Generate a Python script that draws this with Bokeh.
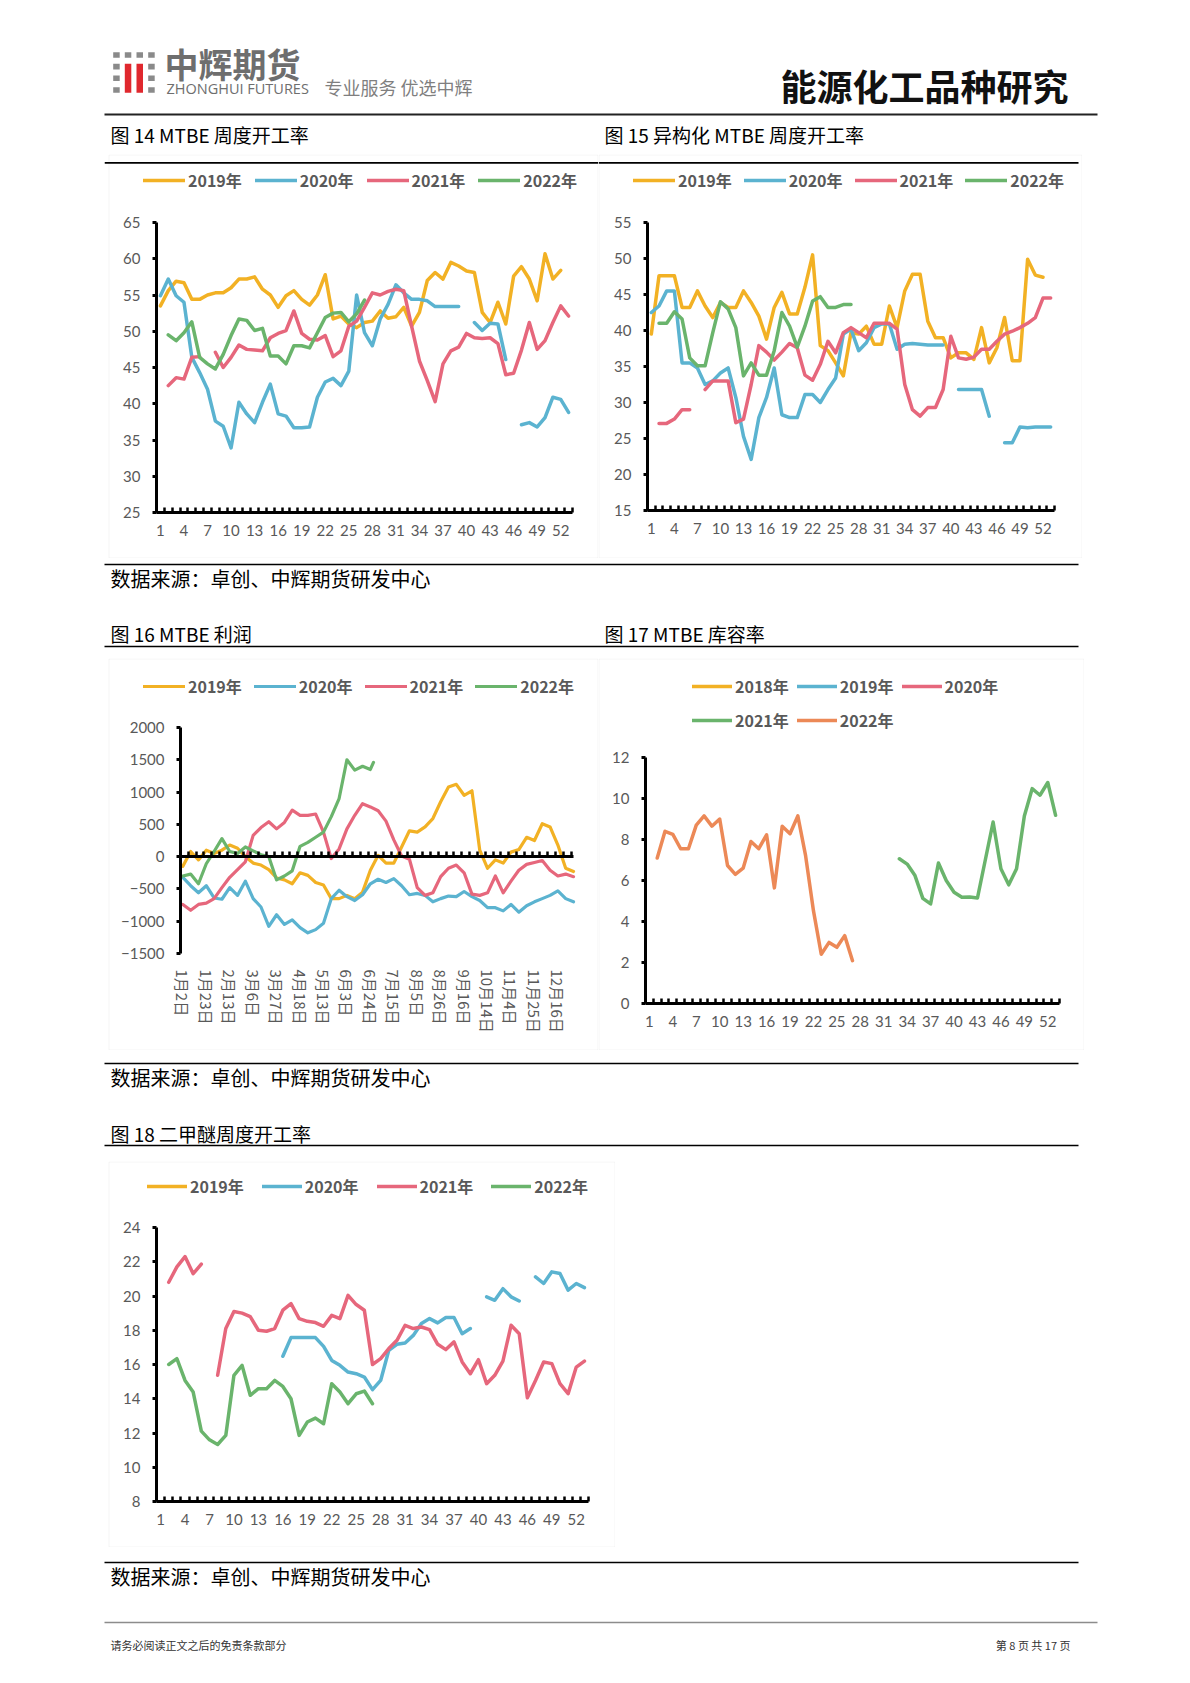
import numpy as np
from bokeh.plotting import figure
from bokeh.models import (Range1d, FixedTicker, Legend, LegendItem, BoxAnnotation,
                          Label, Spacer, LinearAxis)
from bokeh.layouts import column, row
from bokeh.core.properties import value
from bokeh.embed import file_html
from bokeh.resources import INLINE

# ---------------- data ----------------
WEEKS = list(range(1, 54))
WEEK_TICKS = list(range(1, 54, 3))

# Fig 14 MTBE weekly operating rate (%)
MTBE_RATE_2019 = [53.5, 55.6, 56.9, 56.7, 54.4, 54.4, 55.0, 55.3, 55.3, 56.0,
                  57.2, 57.2, 57.5, 55.8, 55.0, 53.3, 54.9, 55.6, 54.4, 53.6,
                  55.0, 57.8, 51.7, 52.1, 51.0, 50.5, 51.2, 51.4, 52.8, 51.8,
                  52.0, 53.3, 50.7, 52.6, 57.0, 58.1, 57.2, 59.5, 59.0, 58.3,
                  58.1, 52.6, 51.2, 54.0, 51.0, 57.6, 58.9, 57.2, 54.2, 60.7,
                  57.2, 58.4, None]
MTBE_RATE_2020 = [54.9, 57.2, 54.9, 54.0, 46.4, 44.3, 42.0, 37.6, 36.9, 33.9,
                  40.2, 38.6, 37.4, 40.2, 42.7, 38.6, 38.3, 36.7, 36.7, 36.8,
                  40.9, 43.0, 43.5, 42.5, 44.5, 55.0, 49.8, 48.0, 51.7, 53.7,
                  56.4, 55.3, 54.4, 54.4, 54.2, 53.4, 53.4, 53.4, 53.4, None,
                  51.2, 50.1, 51.1, 51.0, 46.1, None, 37.1, 37.4, 36.8, 38.1,
                  40.9, 40.6, 38.8]
MTBE_RATE_2021 = [None, 42.5, 43.6, 43.4, 46.4, 46.5, None, 47.1, 45.0, 46.4,
                  48.1, 47.5, 47.4, 47.3, 49.1, 49.7, 50.1, 52.8, 49.7, 48.9,
                  48.8, 49.4, 46.5, 47.3, 50.7, 51.4, 53.3, 55.3, 55.0, 55.5,
                  55.8, 55.6, 50.7, 45.9, 43.2, 40.3, 45.5, 47.3, 47.8, 49.7,
                  49.1, 49.0, 49.1, 48.3, 44.0, 44.2, 47.4, 51.2, 47.5, 48.7,
                  51.2, 53.5, 52.1]
MTBE_RATE_2022 = [None, 49.5, 48.7, 49.8, 51.3, 46.4, 45.5, 44.8, 46.8, 49.4,
                  51.7, 51.5, 50.1, 50.4, 46.6, 46.6, 45.5, 48.0, 48.0, 47.7,
                  49.8, 51.9, 52.5, 52.6, 51.3, 52.4, 54.3]

# Fig 15 iso-MTBE weekly operating rate (%)
ISO_RATE_2019 = [39.5, 47.6, 47.6, 47.6, 43.2, 43.2, 45.5, 43.4, 41.8, 43.9,
                 43.2, 43.2, 45.5, 43.9, 42.0, 38.8, 43.2, 45.3, 42.3, 42.3,
                 46.0, 50.5, 37.9, 37.2, 35.5, 33.7, 39.7, 39.5, 40.6, 38.1,
                 38.1, 43.4, 40.4, 45.5, 47.8, 47.8, 41.3, 39.0, 39.0, 36.2,
                 36.9, 36.9, 36.0, 40.4, 35.5, 37.6, 41.8, 35.8, 35.8, 49.9,
                 47.7, 47.4, None]
ISO_RATE_2020 = [42.5, 43.4, 45.5, 45.5, 35.5, 35.5, 34.8, 32.5, 33.0, 34.1,
                 34.8, 30.7, 25.3, 22.1, 27.9, 30.7, 34.8, 28.3, 27.9, 27.9,
                 31.1, 31.1, 30.0, 31.8, 33.4, 39.5, 40.2, 37.2, 38.3, 40.4,
                 40.9, 40.9, 37.4, 38.1, 38.2, 38.1, 38.0, 38.0, 38.0, None,
                 31.8, 31.8, 31.8, 31.8, 28.1, None, 24.4, 24.4, 26.6, 26.5,
                 26.6, 26.6, 26.6]
ISO_RATE_2021 = [None, 27.1, 27.1, 27.7, 29.0, 29.0, None, 31.8, 33.0, 33.0,
                 33.0, 27.2, 27.7, 32.5, 37.9, 37.0, 35.9, 37.0, 38.2, 37.6,
                 33.8, 33.1, 35.3, 38.5, 36.9, 39.7, 40.4, 39.7, 39.0, 41.0,
                 41.0, 41.0, 40.2, 32.5, 29.0, 28.1, 29.3, 29.3, 31.8, 39.2,
                 36.2, 36.0, 36.3, 37.4, 37.4, 38.5, 39.5, 39.9, 40.4, 41.0,
                 41.8, 44.5, 44.5]
ISO_RATE_2022 = [None, 41.0, 41.0, 42.6, 41.6, 36.2, 35.1, 35.1, 39.7, 44.0,
                 43.0, 40.4, 33.7, 35.5, 33.8, 33.8, 37.2, 42.5, 40.6, 37.7,
                 40.6, 44.1, 44.7, 43.2, 43.2, 43.6, 43.6]

# Fig 16 MTBE profit (daily axis, read every 5 days)
PROFIT_DAYS = list(range(0, 251, 5))
PROFIT_2019 = [-150, 80, -50, 100, 50, 100, 180, 130, 0, -100,
               -130, -200, -330, -360, -420, -250, -290, -400, -440, -650,
               -650, -600, -650, -550, -210, 20, -100, -100, 150, 400,
               380, 460, 590, 850, 1080, 1120, 950, 1020, 100, -180,
               -50, -100, 70, 110, 300, 250, 510, 460, 180, -180, -230]
PROFIT_2020 = [-320, -450, -560, -450, -640, -660, -480, -600, -380, -650,
               -780, -1080, -900, -1050, -980, -1100, -1180, -1130, -1030, -650,
               -520, -620, -680, -590, -420, -350, -400, -340, -450, -590,
               -570, -600, -700, -650, -610, -620, -540, -620, -680, -790,
               -790, -840, -740, -860, -760, -700, -650, -600, -530, -650, -700]
PROFIT_2021 = [-740, -830, -740, -720, -650, -480, -320, -200, -80, 330,
               450, 540, 430, 530, 720, 640, 640, 660, 380, -30,
               120, 430, 640, 820, 770, 710, 550, 260, 10, -40,
               -480, -600, -560, -310, -180, -130, -250, -580, -600, -560,
               -300, -560, -380, -210, -120, -90, -60, -210, -300, -270, -310]
PROFIT_2022_DAYS = list(range(0, 121, 5)) + [122]
PROFIT_2022 = [-300, -270, -420, -110, 80, 280, 80, 50, 150, 90,
               30, 0, -360, -300, -220, 160, 220, 300, 380, 620,
               900, 1500, 1340, 1400, 1350, 1460]
DATE_TICK_POS = list(range(0, 241, 15))
DATE_TICK_LABELS = ["1月2日", "1月23日", "2月13日", "3月6日", "3月27日", "4月18日",
                    "5月13日", "6月3日", "6月24日", "7月15日", "8月5日", "8月26日",
                    "9月16日", "10月14日", "11月4日", "11月25日", "12月16日"]

# Fig 17 MTBE storage ratio (2018-2020 shown in legend only, no points drawn)
INV_2018 = [None] * 53
INV_2019 = [None] * 53
INV_2020 = [None] * 53
INV_2021 = [None] * 32 + [7.06, 6.8, 6.24, 5.13, 4.86, 6.85, 6.0, 5.43, 5.18, 5.2,
                          5.15, 7.0, 8.85, 6.57, 5.79, 6.57, 9.15, 10.48, 10.16, 10.78, 9.18]
INV_2022 = [None, 7.1, 8.4, 8.25, 7.55, 7.55, 8.7, 9.15, 8.65, 9.0,
            6.73, 6.3, 6.6, 7.9, 7.55, 8.23, 5.64, 8.65, 8.28, 9.15,
            7.2, 4.53, 2.4, 2.98, 2.74, 3.31, 2.09]

# Fig 18 DME weekly operating rate (2019 in legend only)
DME_2019 = [None] * 53
DME_2020 = [None] * 15 + [16.48, 17.57, 17.57, 17.57, 17.57, 17.06, 16.24, 15.95, 15.56, 15.46,
                          15.27, 14.53, 15.07, 16.83, 17.18, 17.26, 17.7, 18.39, 18.68, 18.43,
                          18.74, 18.74, 17.8, 18.1, None, 19.95, 19.75, 20.43, 19.95, 19.71,
                          None, 21.12, 20.73, 21.41, 21.31, 20.34, 20.73, 20.49]
DME_2021 = [None, 20.8, 21.7, 22.3, 21.3, 21.86, None, 15.37, 18.1, 19.1,
            19.0, 18.8, 18.0, 17.94, 18.1, 19.17, 19.56, 18.68, 18.52, 18.45,
            18.23, 18.87, 18.68, 20.04, 19.5, 19.17, 16.0, 16.34, 16.93, 17.41,
            18.29, 18.1, 18.19, 18.04, 17.18, 16.87, 17.32, 16.15, 15.46, 16.28,
            14.88, 15.37, 16.2, 18.29, 17.8, 14.06, 15.07, 16.15, 16.05, 14.88,
            14.3, 15.85, 16.2]
DME_2022 = [None, 16.0, 16.34, 15.07, 14.39, 12.11, 11.6, 11.33, 11.86, 15.37,
            15.95, 14.2, 14.59, 14.59, 15.07, 14.72, 14.0, 11.86, 12.64, 12.87,
            12.54, 14.88, 14.39, 13.71, 14.29, 14.45, 13.71]

# ---------------- style ----------------
GOLD = "#F2B124"
BLUE = "#5BB3D0"
PINK = "#E6677C"
GREEN = "#6AB46C"
ORANGE = "#EC8957"
CJK = "Noto Sans CJK SC"
NUM = "Lato"
GREY_TXT = "#595959"
PAGE_W = 1190


def arr(v, n=None):
    v = list(v)
    if n is not None:
        v = v + [None] * (n - len(v))
    return np.array([np.nan if x is None else x for x in v], dtype=float)


def band(h):
    p = figure(width=PAGE_W, height=h, x_range=Range1d(0, PAGE_W), y_range=Range1d(h, 0),
               x_axis_type=None, y_axis_type=None, toolbar_location=None,
               output_backend="svg", min_border=0)
    p.outline_line_color = None
    return p


def txt(p, x, y, s, size, color="black", align="left", bold=False, font=CJK):
    p.add_layout(Label(x=x, y=y, text=s, text_font=font, text_font_size=size,
                       text_color=color, text_align=align, text_baseline="middle",
                       text_font_style="bold" if bold else "normal"))


def hline(p, x0, x1, y, color="black", w=1.5):
    p.segment(x0=[x0], y0=[y], x1=[x1], y1=[y], line_color=color, line_width=w)


def canvas_box(p, left, right, top, bottom, **kw):
    p.add_layout(BoxAnnotation(left=left, right=right, top=top, bottom=bottom,
                               left_units="canvas", right_units="canvas",
                               top_units="canvas", bottom_units="canvas", **kw))


def chart(w, h, xr, yr, yticks, bl, br, bt, bb, box_left=4):
    """Frame fills the whole canvas; axes are pinned to the plotting area's edges."""
    sx = (w - bl - br) / (xr[1] - xr[0])
    sy = (h - bt - bb) / (yr[1] - yr[0])
    p = figure(width=w, height=h,
               x_range=Range1d(xr[0] - bl / sx, xr[1] + br / sx),
               y_range=Range1d(yr[0] - bb / sy, yr[1] + bt / sy),
               toolbar_location=None, output_backend="svg", min_border=0)
    p.grid.visible = False
    p.outline_line_color = None
    xa, ya = p.xaxis[0], p.yaxis[0]
    xa.fixed_location = yr[0]
    xa.bounds = xr
    ya.fixed_location = xr[0]
    ya.bounds = yr
    for ax in (xa, ya):
        ax.axis_line_color = "black"
        ax.axis_line_width = 3
        ax.major_label_text_font = NUM
        ax.major_label_text_font_size = "15px"
        ax.major_label_text_color = GREY_TXT
    ya.ticker = FixedTicker(ticks=yticks)
    ya.major_tick_in = 0
    ya.major_tick_out = 4
    ya.major_tick_line_width = 3
    ya.major_tick_line_color = "black"
    ya.minor_tick_line_color = None
    ya.major_label_standoff = 12
    canvas_box(p, box_left + 0.5, w - 0.5, 0.5, h - 0.5,
               fill_color=None, line_color="#d9d9d9", line_width=1)
    return p


def week_xaxis(p):
    xa = p.xaxis[0]
    xa.ticker = FixedTicker(ticks=WEEK_TICKS, minor_ticks=[k + 0.5 for k in range(54)])
    xa.major_tick_line_color = None
    xa.major_tick_in = 0
    xa.major_tick_out = 0
    xa.minor_tick_in = 5
    xa.minor_tick_out = 0
    xa.minor_tick_line_width = 2.5
    xa.minor_tick_line_color = "black"
    xa.major_label_standoff = 12


def line(p, x, y, color, lw=3.5):
    return p.line(x, y, line_color=color, line_width=lw, line_join="round", line_cap="round")


def legend(p, rs, labels, left, center_y, gw, spacing):
    # left / center_y in canvas pixels from the top-left corner
    items = [LegendItem(label=value(l), renderers=[r]) for l, r in zip(labels, rs)]
    lg = Legend(items=items, orientation="horizontal",
                location=(left, p.height - (center_y + 10)),
                glyph_width=gw, glyph_height=20, label_standoff=3, spacing=spacing,
                padding=0, margin=0, border_line_color=None, background_fill_alpha=0,
                label_text_font=CJK, label_text_font_style="bold", label_text_font_size="16px",
                label_text_color=GREY_TXT, label_height=20)
    p.add_layout(lg)


YEARS4 = ["2019年", "2020年", "2021年", "2022年"]

# ---------------- Fig 14 ----------------
p14 = chart(494, 404, (0.5, 53.5), (25, 65), list(range(25, 66, 5)), 52, 26, 68, 46)
week_xaxis(p14)
r = [line(p14, WEEKS, arr(MTBE_RATE_2019, 53), GOLD),
     line(p14, WEEKS, arr(MTBE_RATE_2020, 53), BLUE),
     line(p14, WEEKS, arr(MTBE_RATE_2021, 53), PINK),
     line(p14, WEEKS, arr(MTBE_RATE_2022, 53), GREEN)]
legend(p14, r, YEARS4, 39, 28, 42, 13)
canvas_box(p14, 0, 494, 7.5, 9.2, fill_color="black", fill_alpha=1, line_color=None)

# ---------------- Fig 15 ----------------
p15 = chart(484, 404, (0.5, 53.5), (15, 55), list(range(15, 56, 5)), 49, 28, 68, 48, box_left=0)
week_xaxis(p15)
r = [line(p15, WEEKS, arr(ISO_RATE_2019, 53), GOLD),
     line(p15, WEEKS, arr(ISO_RATE_2020, 53), BLUE),
     line(p15, WEEKS, arr(ISO_RATE_2021, 53), PINK),
     line(p15, WEEKS, arr(ISO_RATE_2022, 53), GREEN)]
legend(p15, r, YEARS4, 35, 28, 42, 12)
canvas_box(p15, 0, 480, 7.5, 9.2, fill_color="black", fill_alpha=1, line_color=None)

# ---------------- Fig 16 ----------------
p16 = chart(494, 392, (-1.5, 250), (-1500, 2000), list(range(-1500, 2001, 500)), 76, 25, 69, 97)
xa = p16.xaxis[0]
xa.fixed_location = 0
xa.ticker = FixedTicker(ticks=[], minor_ticks=[5 * k + 3.5 for k in range(50)])
xa.major_tick_line_color = None
xa.major_tick_in = 0
xa.major_tick_out = 0
xa.minor_tick_in = 5
xa.minor_tick_out = 0
xa.minor_tick_line_width = 2.5
xa.minor_tick_line_color = "black"
date_axis = LinearAxis(ticker=FixedTicker(ticks=DATE_TICK_POS, minor_ticks=[]),
                       fixed_location=-1500, bounds=(-1.5, 250),
                       major_label_overrides={pos: lab for pos, lab in zip(DATE_TICK_POS, DATE_TICK_LABELS)},
                       major_label_orientation="vertical", axis_line_color=None,
                       major_tick_line_color=None, minor_tick_line_color=None,
                       major_tick_in=0, major_tick_out=0, major_label_standoff=16,
                       major_label_text_font=CJK, major_label_text_font_size="15px",
                       major_label_text_color=GREY_TXT)
p16.add_layout(date_axis, "below")
r = [line(p16, PROFIT_DAYS, arr(PROFIT_2019), GOLD, 3.2),
     line(p16, PROFIT_DAYS, arr(PROFIT_2020), BLUE, 3.2),
     line(p16, PROFIT_DAYS, arr(PROFIT_2021), PINK, 3.2),
     line(p16, PROFIT_2022_DAYS, arr(PROFIT_2022), GREEN, 3.2)]
legend(p16, r, YEARS4, 39, 30, 42, 12)

# ---------------- Fig 17 ----------------
p17 = chart(486, 392, (0.5, 53.5), (0, 12), list(range(0, 13, 2)), 47, 25, 99, 47, box_left=0)
week_xaxis(p17)
r18 = line(p17, WEEKS, arr(INV_2018), GOLD)
r19 = line(p17, WEEKS, arr(INV_2019), BLUE)
r20 = line(p17, WEEKS, arr(INV_2020), PINK)
r21 = line(p17, WEEKS, arr(INV_2021, 53), GREEN)
r22 = line(p17, WEEKS, arr(INV_2022, 53), ORANGE)
legend(p17, [r18, r19, r20], ["2018年", "2019年", "2020年"], 94, 30, 40, 8)
legend(p17, [r21, r22], ["2021年", "2022年"], 94, 64, 40, 8)

# ---------------- Fig 18 ----------------
p18 = chart(511, 386, (0.5, 53.5), (8, 24), list(range(8, 25, 2)), 52, 27, 66, 46)
week_xaxis(p18)
r = [line(p18, WEEKS, arr(DME_2019), GOLD),
     line(p18, WEEKS, arr(DME_2020, 53), BLUE),
     line(p18, WEEKS, arr(DME_2021, 53), PINK),
     line(p18, WEEKS, arr(DME_2022, 53), GREEN)]
legend(p18, r, YEARS4, 43, 27, 40, 18)

# ---------------- page bands ----------------
SRC = "数据来源：卓创、中辉期货研发中心"

bA = band(154)
cols = [112.7, 124.3, 136.0, 147.7]
rows_ = [51.7, 63.3, 75.0, 86.7]
gl, gr, gt, gb = [], [], [], []
for ci, cx in enumerate(cols):
    for ri, ry in enumerate(rows_):
        if ci in (1, 2) and ri > 0:
            continue
        gl.append(cx); gr.append(cx + 6.5); gt.append(ry); gb.append(ry + 5.6)
bA.quad(left=gl, right=gr, top=gt, bottom=gb, fill_color="#8a8a8a", line_color=None)
bA.quad(left=[cols[1], cols[2]], right=[cols[1] + 6.5, cols[2] + 6.5], top=[63.3, 63.3],
        bottom=[92.3, 92.3], fill_color="#E0282E", line_color=None)
txt(bA, 164, 63, "中辉期货", "34px", "#6e6e6e", bold=True)
txt(bA, 166, 87.5, "ZHONGHUI FUTURES", "14.5px", "#6e6e6e", font="Open Sans")
txt(bA, 324, 86, "专业服务 优选中辉", "18px", "#7f7f7f")
txt(bA, 1068, 84, "能源化工品种研究", "36px", "#111111", align="right", bold=True)
hline(bA, 104, 1097, 114, "#222222", 2)
txt(bA, 110, 134, "图 14 MTBE 周度开工率", "19px")
txt(bA, 604, 134, "图 15 异构化 MTBE 周度开工率", "19px")

bB = band(100)
hline(bB, 104, 1078, 6)
txt(bB, 110, 20, SRC, "20px")
txt(bB, 110, 75, "图 16 MTBE 利润", "19px")
txt(bB, 604, 75, "图 17 MTBE 库容率", "19px")
hline(bB, 104, 1078, 88)

bC = band(111)
hline(bC, 104, 1078, 13)
txt(bC, 110, 27, SRC, "20px")
txt(bC, 110, 83, "图 18 二甲醚周度开工率", "19px")
hline(bC, 104, 1078, 95)

bD = band(136)
hline(bD, 104, 1078, 15)
txt(bD, 110, 29, SRC, "20px")
hline(bD, 104, 1097, 75, "#8c8c8c", 1.5)
txt(bD, 110, 97, "请务必阅读正文之后的免责条款部分", "11px", "#333333")
txt(bD, 1070, 97, "第 8 页 共 17 页", "11px", "#333333", align="right")

layout = column(
    bA,
    row(Spacer(width=104, height=404), p14, p15),
    bB,
    row(Spacer(width=104, height=392), p16, p17),
    bC,
    row(Spacer(width=104, height=386), p18),
    bD,
)

open("out.html", "w").write(file_html(layout, INLINE))
